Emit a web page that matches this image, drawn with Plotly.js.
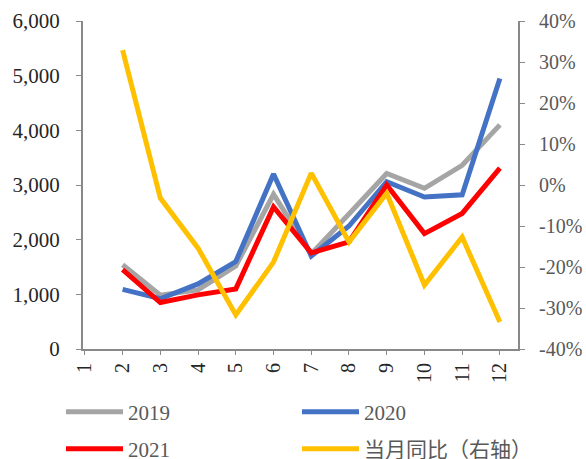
<!DOCTYPE html>
<html>
<head>
<meta charset="utf-8">
<script src="https://cdn.plot.ly/plotly-3.0.1.min.js"></script>
<style>html,body{margin:0;padding:0;background:#fff;}#chart{width:586px;height:459px;}</style>
</head>
<body>
<div id="chart"></div>
<script>
const months = [2, 3, 4, 5, 6, 7, 8, 9, 10, 11, 12];
const tickMonths = [1, 2, 3, 4, 5, 6, 7, 8, 9, 10, 11, 12];
const tickLabels = ["1", "2", "3", "4", "5", "6", "7", "8", "9", "10", "11", "12"];
const leftTicks = [0, 1000, 2000, 3000, 4000, 5000, 6000];
const leftLabels = ["0", "1,000", "2,000", "3,000", "4,000", "5,000", "6,000"];
const rightTicks = [-40, -30, -20, -10, 0, 10, 20, 30, 40];
const rightLabels = ["-40%", "-30%", "-20%", "-10%", "0%", "10%", "20%", "30%", "40%"];
const v2019 = [1540, 985, 1080, 1520, 2830, 1740, 2470, 3210, 2940, 3360, 4100];
const v2020 = [1090, 920, 1190, 1600, 3200, 1700, 2250, 3060, 2780, 2820, 4950];
const v2021 = [1450, 850, 990, 1100, 2600, 1760, 1960, 3000, 2110, 2480, 3310];
const yoy = [32.9, -3.2, -15.4, -31.7, -18.8, 2.9, -13.9, -2.0, -24.4, -12.7, -33.4];
const names = ["2019", "2020", "2021", "当月同比（右轴）"];
const colors = ["#A5A5A5", "#4472C4", "#FF0000", "#FFC000"];

const FONT = "'Liberation Serif', 'Times New Roman', 'Noto Sans CJK SC', serif";

const series = [v2019, v2020, v2021, yoy];
const legendIds = ["legend", "legend2", "legend3", "legend4"];
const traces = series.map((ys, i) => ({
  type: "scatter", mode: "lines",
  x: months, y: ys, name: names[i],
  yaxis: i === 3 ? "y2" : "y",
  legend: legendIds[i],
  line: {color: colors[i], width: 5}
}));

// legend placement (pixels): column starts and row centres
const colX = [61, 297];
const rowY = [412, 449];
function legendAt(col, row) {
  return {
    orientation: "h",
    xref: "container", yref: "container",
    x: colX[col] / 586, xanchor: "left",
    y: 1 - rowY[row] / 459, yanchor: "middle",
    itemwidth: 57,
    font: {family: FONT, size: 21, color: "#595959"},
    bgcolor: "rgba(0,0,0,0)", borderwidth: 0
  };
}

const layout = {
  width: 586, height: 459,
  margin: {l: 83, r: 68, t: 21, b: 110},
  paper_bgcolor: "#ffffff", plot_bgcolor: "#ffffff",
  font: {family: FONT, size: 20, color: "#262626"},
  showlegend: true,
  legend: legendAt(0, 0),
  legend2: legendAt(1, 0),
  legend3: legendAt(0, 1),
  legend4: legendAt(1, 1),
  xaxis: {
    type: "linear", range: [0.95, 12.48],
    tickmode: "array", tickvals: tickMonths, ticktext: tickLabels,
    tickangle: -90, ticks: "outside", ticklen: 4, tickcolor: "#898989",
    showline: true, linecolor: "#898989", linewidth: 2,
    showgrid: false, zeroline: false,
    tickfont: {family: FONT, size: 20, color: "#262626"}
  },
  yaxis: {
    range: [0, 6000],
    tickmode: "array", tickvals: leftTicks, ticktext: leftLabels,
    ticks: "outside", ticklen: 5, tickcolor: "#898989",
    showline: true, linecolor: "#898989", linewidth: 2,
    showgrid: false, zeroline: false,
    ticklabelstandoff: 12,
    tickfont: {family: FONT, size: 21, color: "#262626"}
  },
  yaxis2: {
    overlaying: "y", side: "right",
    range: [-40, 40],
    tickmode: "array", tickvals: rightTicks, ticktext: rightLabels,
    ticks: "outside", ticklen: 5, tickcolor: "#898989",
    showline: true, linecolor: "#898989", linewidth: 2,
    showgrid: false, zeroline: false,
    ticklabelstandoff: 10,
    tickfont: {family: FONT, size: 20, color: "#595959"}
  }
};

Plotly.newPlot("chart", traces, layout, {displayModeBar: false, staticPlot: true});
</script>
</body>
</html>
